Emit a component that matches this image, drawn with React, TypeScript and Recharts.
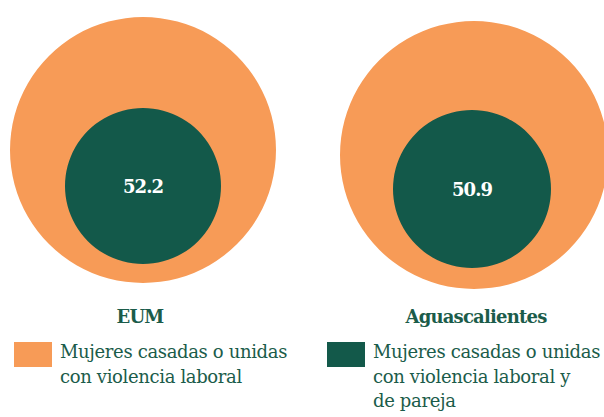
import React from 'react';
import { PieChart, Pie, Cell, Legend } from 'recharts';

const regions = ['EUM', 'Aguascalientes'];
const laboral = [100, 100];
const laboralPareja = [52.2, 50.9];
const seriesLines = [
  ['Mujeres casadas o unidas', 'con violencia laboral'],
  ['Mujeres casadas o unidas', 'con violencia laboral y', 'de pareja'],
];

const ORANGE = '#F79B57';
const GREEN = '#13594A';
const TEXT = '#1B5C4A';
const SERIF = "'DejaVu Serif', serif";

const outerPos = [
  { cx: 143, cy: 150, r: 133 },
  { cx: 474, cy: 155, r: 134 },
];
const innerPos = [
  { cx: 143, cy: 186, r: 78 },
  { cx: 472, cy: 189, r: 79 },
];
const titlePos = [140, 476];

const renderInnerLabel = (props: any) => {
  const { cx, cy, value } = props;
  return (
    <text
      x={cx}
      y={cy}
      dy={7}
      textAnchor="middle"
      fill="#ffffff"
      style={{ fontFamily: SERIF, fontWeight: 'bold', fontSize: 18, letterSpacing: -1 }}
    >
      {value.toFixed(1)}
    </text>
  );
};

const LegendContent = () => {
  const items = [
    { color: ORANGE, left: 14, lines: seriesLines[0] },
    { color: GREEN, left: 327, lines: seriesLines[1] },
  ];
  return (
    <div style={{ position: 'relative', width: 604, height: 80 }}>
      {items.map((it, i) => (
        <div key={i} style={{ position: 'absolute', left: it.left, top: 0, display: 'flex' }}>
          <div style={{ width: 38, height: 25, background: it.color, marginTop: 2 }} />
          <div
            style={{
              marginLeft: 8,
              fontFamily: SERIF,
              fontSize: 18,
              letterSpacing: -0.35,
              lineHeight: '24.5px',
              color: TEXT,
              whiteSpace: 'nowrap',
            }}
          >
            {it.lines.map((l, j) => (
              <div key={j}>{l}</div>
            ))}
          </div>
        </div>
      ))}
    </div>
  );
};

export default function App() {
  return (
    <div style={{ position: 'absolute', left: 0, top: 0, width: 604, height: 417, background: '#fff' }}>
      <PieChart width={604} height={417} margin={{ top: 0, right: 0, bottom: 0, left: 0 }}>
        {regions.map((reg, i) => (
          <Pie
            key={'o' + reg}
            data={[{ name: 'laboral', value: laboral[i] }]}
            dataKey="value"
            cx={outerPos[i].cx}
            cy={outerPos[i].cy}
            outerRadius={outerPos[i].r}
            innerRadius={0}
            startAngle={90}
            endAngle={-270}
            stroke="none"
            isAnimationActive={false}
            legendType="none"
          >
            <Cell fill={ORANGE} />
          </Pie>
        ))}
        {regions.map((reg, i) => (
          <Pie
            key={'i' + reg}
            data={[{ name: 'pareja', value: laboralPareja[i] }]}
            dataKey="value"
            cx={innerPos[i].cx}
            cy={innerPos[i].cy}
            outerRadius={innerPos[i].r}
            innerRadius={0}
            startAngle={90}
            endAngle={-270}
            stroke="none"
            isAnimationActive={false}
            label={renderInnerLabel}
            labelLine={false}
            legendType="none"
          >
            <Cell fill={GREEN} />
          </Pie>
        ))}
        <Legend
          content={<LegendContent />}
          wrapperStyle={{ position: 'absolute', left: 0, top: 340, width: 604 }}
        />
      </PieChart>
      {regions.map((reg, i) => (
        <div
          key={'t' + reg}
          style={{
            position: 'absolute',
            left: titlePos[i] - 100,
            width: 200,
            top: 306,
            textAlign: 'center',
            fontFamily: SERIF,
            fontWeight: 'bold',
            fontSize: 18,
            letterSpacing: -0.8,
            color: TEXT,
          }}
        >
          {reg}
        </div>
      ))}
    </div>
  );
}
